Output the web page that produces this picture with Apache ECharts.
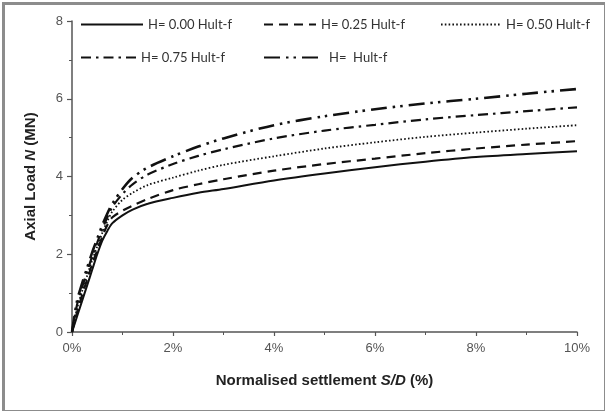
<!DOCTYPE html>
<html><head><meta charset="utf-8">
<script src="https://cdn.jsdelivr.net/npm/echarts@6/dist/echarts.min.js"></script>
<style>html,body{margin:0;padding:0;background:#fff}#c{width:605px;height:411px}</style>
</head><body><div id="c"></div>
<script>
const settlement = [0, 0.1, 0.2, 0.3, 0.4, 0.5, 0.6, 0.7, 0.8, 1.0, 1.2, 1.5, 2, 2.5, 3, 4, 5, 6, 7, 8, 9, 10];
const loadH000 = [0, 0.4, 0.8, 1.2, 1.6, 2.0, 2.35, 2.6, 2.8, 3.0, 3.15, 3.3, 3.45, 3.58, 3.68, 3.9, 4.08, 4.24, 4.38, 4.5, 4.58, 4.65];
const loadH025 = [0, 0.5, 0.95, 1.35, 1.75, 2.1, 2.45, 2.75, 2.95, 3.12, 3.25, 3.42, 3.65, 3.8, 3.93, 4.15, 4.32, 4.46, 4.6, 4.72, 4.82, 4.91];
const loadH050 = [0, 0.6, 1.05, 1.45, 1.85, 2.2, 2.55, 2.85, 3.1, 3.4, 3.58, 3.78, 3.97, 4.15, 4.3, 4.52, 4.72, 4.88, 5.02, 5.13, 5.23, 5.32];
const loadH075 = [0, 0.7, 1.15, 1.55, 1.95, 2.3, 2.65, 2.95, 3.22, 3.55, 3.8, 4.05, 4.32, 4.53, 4.7, 4.98, 5.18, 5.33, 5.47, 5.58, 5.68, 5.78];
const loadH100 = [0, 0.8, 1.25, 1.65, 2.05, 2.4, 2.75, 3.05, 3.3, 3.68, 3.97, 4.23, 4.52, 4.77, 4.98, 5.32, 5.55, 5.73, 5.88, 6.0, 6.13, 6.25];
const seriesNames = ['H= 0.00 Hult-f', 'H= 0.25 Hult-f', 'H= 0.50 Hult-f', 'H= 0.75 Hult-f', 'H=  Hult-f'];
const seriesLoads = [loadH000, loadH025, loadH050, loadH075, loadH100];
const xTicks = [0, 2, 4, 6, 8, 10];
const yTicks = [0, 2, 4, 6, 8];

const styles = [
  {type: 'solid', width: 2},
  {type: [9, 6], width: 2.2},
  {type: [1.6, 2.2], width: 1.8},
  {type: [10, 5, 2.5, 5], width: 2.2},
  {type: [16, 6, 2.5, 5, 2.5, 6], width: 2.6}
];
const legendPos = [
  {left: 75, top: 13, w: 62},
  {left: 258, top: 13, w: 52},
  {left: 435, top: 13, w: 60},
  {left: 75, top: 46, w: 55},
  {left: 258, top: 46, w: 60}
];

const chart = echarts.init(document.getElementById('c'), null, {renderer: 'canvas'});
chart.setOption({
  animation: false,
  backgroundColor: '#fff',
  grid: {left: 72, right: 28, top: 21, bottom: 79},
  legend: seriesNames.map((n, i) => ({
    data: [n], left: legendPos[i].left, top: legendPos[i].top,
    itemWidth: legendPos[i].w, itemHeight: 12, itemGap: 0,
    itemStyle: {opacity: 0},
    textStyle: {fontFamily: 'Lato', fontSize: 13, color: '#333'},
    selectedMode: false
  })),
  xAxis: {
    type: 'value', min: xTicks[0], max: xTicks[xTicks.length - 1], interval: 2,
    axisLine: {lineStyle: {color: '#555', width: 1.5}},
    axisTick: {show: true, length: 4, lineStyle: {color: '#555', width: 1.2}},
    minorTick: {show: true, splitNumber: 2, length: 3, lineStyle: {color: '#555'}},
    splitLine: {show: false},
    axisLabel: {formatter: '{value}%', fontFamily: 'Liberation Sans', fontSize: 13, color: '#555', margin: 10},
    name: '{b|Normalised settlement }{i|S/D}{b| (%)}', nameLocation: 'middle', nameGap: 41,
    nameTextStyle: {rich: {
      b: {fontFamily: 'Liberation Sans', fontWeight: 'bold', fontSize: 15, color: '#222'},
      i: {fontFamily: 'Liberation Sans', fontWeight: 'bold', fontStyle: 'italic', fontSize: 15, color: '#222'}
    }}
  },
  yAxis: {
    type: 'value', min: yTicks[0], max: yTicks[yTicks.length - 1], interval: 2,
    axisLine: {show: true, lineStyle: {color: '#555', width: 1.5}},
    axisTick: {show: true, length: 5, lineStyle: {color: '#555', width: 1.2}},
    minorTick: {show: true, splitNumber: 2, length: 3, lineStyle: {color: '#555'}},
    splitLine: {show: false},
    axisLabel: {fontFamily: 'Liberation Sans', fontSize: 13, color: '#555', margin: 9},
    name: '{b|Axial Load }{i|N}{b| (MN)}', nameLocation: 'middle', nameGap: 34,
    nameTextStyle: {rich: {
      b: {fontFamily: 'Liberation Sans', fontWeight: 'bold', fontSize: 15, color: '#222'},
      i: {fontFamily: 'Liberation Sans', fontWeight: 'bold', fontStyle: 'italic', fontSize: 15, color: '#222'}
    }}
  },
  graphic: [{
    type: 'rect', left: 1, top: 1, z: 100,
    shape: {width: 602, height: 408},
    style: {fill: 'none', stroke: '#8c8c8c', lineWidth: 3}
  }],
  series: seriesNames.map((n, i) => ({
    name: n, type: 'line', symbol: 'none', smooth: 0.3,
    data: settlement.map((s, k) => [s, seriesLoads[i][k]]),
    lineStyle: {color: '#111', type: styles[i].type, width: styles[i].width},
    itemStyle: {color: '#111'}
  }))
});
</script></body></html>
